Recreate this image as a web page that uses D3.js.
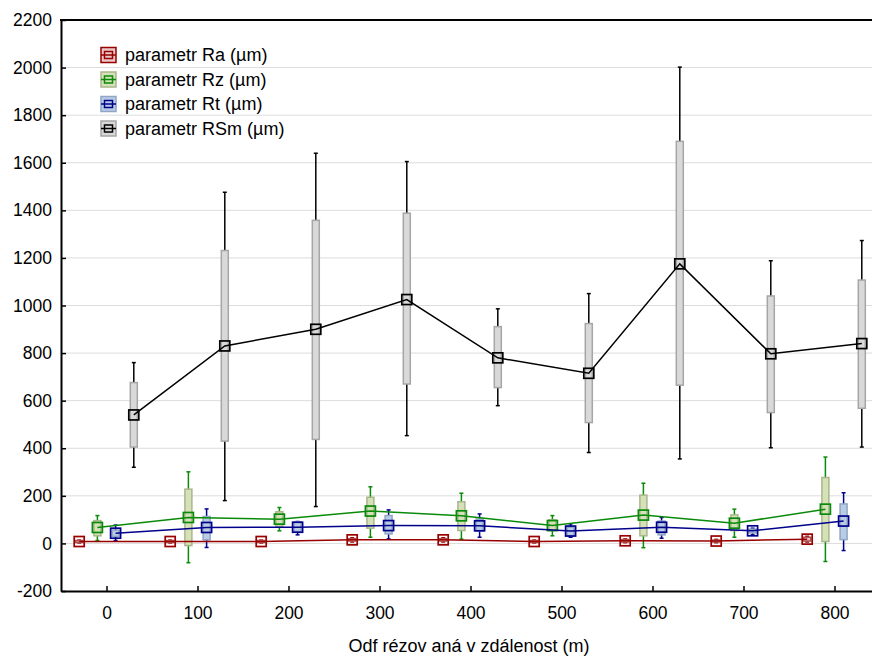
<!DOCTYPE html>
<html>
<head>
<meta charset="utf-8">
<script src="https://cdn.jsdelivr.net/npm/d3@7"></script>
<style>
  body { margin: 0; background: #fff; }
  svg text { font-family: "Liberation Sans", Arial, sans-serif; fill: #000; }
</style>
</head>
<body>
<div id="chart"></div>
<script>
// Distances (categories on the x axis)
var distances = [0, 100, 200, 300, 400, 500, 600, 700, 800];

// Ra
var raMean = [8, 8, 8, 15, 15, 8, 11, 10, 18];
var raQ1 = [4, 4, 4, 10, 10, 4, 6, 6, 10];
var raQ3 = [12, 12, 12, 20, 20, 12, 16, 14, 26];
var raMin = [2, 2, 2, 6, 6, 2, 3, 3, 6];
var raMax = [14, 14, 14, 24, 24, 14, 19, 17, 30];

// Rz
var rzMean = [67, 109, 102, 136, 116, 75, 119, 85, 144];
var rzQ1 = [32, -9, 71, 64, 54, 54, 32, 54, 8];
var rzQ3 = [96, 228, 133, 194, 175, 99, 203, 120, 277];
var rzMin = [12, -81, 53, 26, 18, 32, -18, 26, -76];
var rzMax = [117, 301, 151, 238, 211, 117, 253, 144, 363];

// Rt
var rtMean = [43, 67, 68, 75, 74, 52, 68, 53, 94];
var rtQ1 = [30, 15, 50, 40, 52, 32, 36, 44, 16];
var rtQ3 = [56, 113, 91, 117, 103, 68, 94, 60, 166];
var rtMin = [12, -17, 36, 19, 26, 26, 22, 36, -30];
var rtMax = [77, 145, 92, 141, 124, 82, 109, 64, 213];

// RSm
var rsmMean = [540, 830, 900, 1025, 780, 715, 1175, 797, 840];
var rsmQ1 = [405, 430, 437, 670, 655, 508, 665, 550, 568];
var rsmQ3 = [676, 1231, 1358, 1388, 911, 924, 1690, 1040, 1107];
var rsmMin = [320, 180, 155, 453, 579, 382, 355, 402, 405];
var rsmMax = [760, 1476, 1640, 1605, 986, 1050, 2002, 1188, 1273];

var yTicks = [-200, 0, 200, 400, 600, 800, 1000, 1200, 1400, 1600, 1800, 2000, 2200];
var xTicks = distances;

var series = [
    { name: "parametr Ra (µm)", offset: -30, mean: raMean, q1: raQ1, q3: raQ3, min: raMin, max: raMax,
      line: "#990000", fill: "#ecc9c9", border: "#b05050" },
    { name: "parametr Rz (µm)", offset: -10, mean: rzMean, q1: rzQ1, q3: rzQ3, min: rzMin, max: rzMax,
      line: "#0a8a0a", fill: "#d6e1b8", border: "#a9b68c" },
    { name: "parametr Rt (µm)", offset: 10, mean: rtMean, q1: rtQ1, q3: rtQ3, min: rtMin, max: rtMax,
      line: "#00008c", fill: "#b9cce4", border: "#8fa6c4" },
    { name: "parametr RSm (µm)", offset: 30, mean: rsmMean, q1: rsmQ1, q3: rsmQ3, min: rsmMin, max: rsmMax,
      line: "#000000", fill: "#d9d9d9", border: "#a6a6a6" }
];

var W = 872, H = 659;
var margin = { top: 20, right: -8, bottom: 68, left: 61 };

var svg = d3.select("#chart").append("svg")
    .attr("width", W)
    .attr("height", H);

var x = d3.scaleLinear().domain([-50, 850]).range([margin.left, W - margin.right]);
var y = d3.scaleLinear().domain([-200, 2200]).range([H - margin.bottom, margin.top]);

// grid lines
svg.append("g").selectAll("line")
    .data(yTicks.slice(1, -1))
    .enter().append("line")
    .attr("x1", margin.left).attr("x2", W)
    .attr("y1", d => y(d)).attr("y2", d => y(d))
    .attr("stroke", "#dcdcdc").attr("stroke-width", 1);

// axes (ticks inward), plain number labels
var fmt = d => (d < 0 ? "-" : "") + Math.abs(d);
var yAxis = svg.append("g")
    .attr("transform", `translate(${margin.left},0)`)
    .call(d3.axisLeft(y).tickValues(yTicks).tickFormat(fmt).tickSize(-5).tickPadding(9).tickSizeOuter(0));
var xAxis = svg.append("g")
    .attr("transform", `translate(0,${H - margin.bottom})`)
    .call(d3.axisBottom(x).tickValues(xTicks).tickFormat(fmt).tickSize(-5).tickPadding(16).tickSizeOuter(0));

[yAxis, xAxis].forEach(function (g) {
    g.select(".domain").attr("stroke", "#000").attr("stroke-width", 2);
    g.selectAll(".tick line").attr("stroke", "#000").attr("stroke-width", 1.5);
    g.selectAll("text").style("font-size", "17.5px").style("font-family", "Liberation Sans, Arial");
});

// top frame line
svg.append("line")
    .attr("x1", margin.left - 1).attr("x2", W)
    .attr("y1", margin.top).attr("y2", margin.top)
    .attr("stroke", "#000").attr("stroke-width", 2);

// x-axis title
svg.append("text")
    .attr("x", 469).attr("y", 652)
    .attr("text-anchor", "middle")
    .style("font-size", "18px")
    .text("Odf rézov aná v zdálenost (m)");

var boxW = 7, capW = 4;

// boxes and whiskers
series.forEach(function (s) {
    var g = svg.append("g");
    distances.forEach(function (d, i) {
        var cx = x(d + s.offset);
        g.append("line")
            .attr("x1", cx).attr("x2", cx)
            .attr("y1", y(s.max[i])).attr("y2", y(s.min[i]))
            .attr("stroke", s.line).attr("stroke-width", 1.5);
        [s.max[i], s.min[i]].forEach(function (v) {
            g.append("line")
                .attr("x1", cx - capW / 2).attr("x2", cx + capW / 2)
                .attr("y1", y(v)).attr("y2", y(v))
                .attr("stroke", s.line).attr("stroke-width", 1.5);
        });
        g.append("rect")
            .attr("x", cx - boxW / 2).attr("width", boxW)
            .attr("y", y(s.q3[i])).attr("height", Math.max(1, y(s.q1[i]) - y(s.q3[i])))
            .attr("fill", s.fill).attr("stroke", s.border).attr("stroke-width", 1.5);
    });
});

// mean lines and markers
series.forEach(function (s) {
    var line = d3.line()
        .x((d, i) => x(d + s.offset))
        .y((d, i) => y(s.mean[i]));
    svg.append("path")
        .datum(distances)
        .attr("d", line)
        .attr("fill", "none")
        .attr("stroke", s.line)
        .attr("stroke-width", 1.5);
    svg.append("g").selectAll("rect")
        .data(distances)
        .enter().append("rect")
        .attr("x", (d, i) => x(d + s.offset) - 5)
        .attr("y", (d, i) => y(s.mean[i]) - 5)
        .attr("width", 10).attr("height", 10)
        .attr("fill", "none")
        .attr("stroke", s.line)
        .attr("stroke-width", 1.7);
});

// legend
var legend = svg.append("g");
series.forEach(function (s, i) {
    var ly = 55 + i * 24.5;
    legend.append("rect")
        .attr("x", 101).attr("y", ly - 7.5)
        .attr("width", 15).attr("height", 15)
        .attr("fill", s.fill).attr("stroke", i === 0 ? s.line : s.border).attr("stroke-width", 1.5);
    legend.append("line")
        .attr("x1", 101).attr("x2", 116)
        .attr("y1", ly).attr("y2", ly)
        .attr("stroke", s.line).attr("stroke-width", 1.5);
    legend.append("rect")
        .attr("x", 104.5).attr("y", ly - 3.5)
        .attr("width", 8).attr("height", 7)
        .attr("fill", "none").attr("stroke", s.line).attr("stroke-width", 1.5);
    legend.append("text")
        .attr("x", 125).attr("y", ly + 6)
        .style("font-size", "18px")
        .text(s.name);
});
</script>
</body>
</html>
